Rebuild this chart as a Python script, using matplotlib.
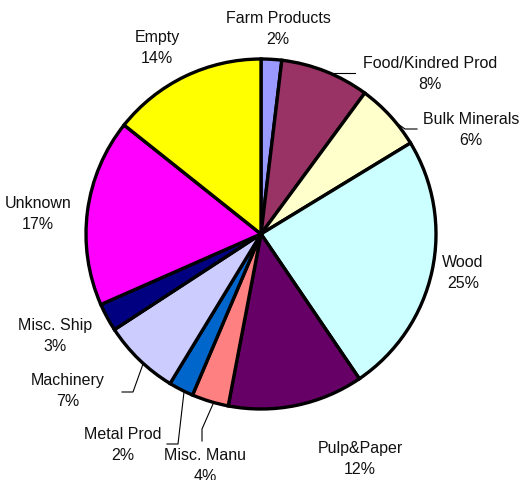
import matplotlib
matplotlib.use("Agg")
import matplotlib.pyplot as plt

# --- Data ---
categories = ["Farm Products", "Food/Kindred Prod", "Bulk Minerals", "Wood", "Pulp&Paper",
              "Misc. Manu", "Metal Prod", "Machinery", "Misc. Ship", "Unknown", "Empty"]
shares = [1.9, 8.2, 6.2, 24.2, 12.5, 3.4, 2.3, 7.1, 2.6, 17.3, 14.3]
pct_labels = ["2%", "8%", "6%", "25%", "12%", "4%", "2%", "7%", "3%", "17%", "14%"]
colors = ["#9999FF", "#993366", "#FFFFCC", "#CCFFFF", "#660066", "#FF8080",
          "#0066CC", "#CCCCFF", "#000080", "#FF00FF", "#FFFF00"]

W, H = 523, 481

# label centres in pixel coords (top-left origin)
label_pos = {
    "Farm Products": (278, 29),
    "Food/Kindred Prod": (430, 74),
    "Bulk Minerals": (471, 130),
    "Wood": (463, 273),
    "Pulp&Paper": (360, 459),
    "Misc. Manu": (205, 466),
    "Metal Prod": (123, 445),
    "Machinery": (68, 391),
    "Misc. Ship": (55, 336),
    "Unknown": (38, 214),
    "Empty": (157, 48),
}

# leader lines in pixel coords
leaders = {
    "Food/Kindred Prod": [(331, 74), (355, 74)],
    "Bulk Minerals": [(398, 125), (405, 130), (417, 130)],
    "Metal Prod": [(184, 393), (178, 445), (167, 445)],
    "Misc. Manu": [(213, 405), (202, 430), (202, 442)],
    "Machinery": [(143, 365), (133, 393), (122, 393)],
}

fig = plt.figure(figsize=(W / 100, H / 100), dpi=100)
ax = fig.add_axes([0, 0, 1, 1])
ax.set_xlim(0, W)
ax.set_ylim(0, H)
ax.set_aspect("equal")
ax.axis("off")

ax.pie(shares, colors=colors, startangle=90, counterclock=False,
       center=(261, H - 235), radius=175,
       wedgeprops=dict(edgecolor="black", linewidth=2.4))
ax.set_xlim(0, W)
ax.set_ylim(0, H)

for name, pct in zip(categories, pct_labels):
    x, y = label_pos[name]
    ax.text(x, H - y, name + "\n" + pct, ha="center", va="center",
            fontsize=11.5, family="Liberation Sans", linespacing=1.45, color="#111111")

for name, pts in leaders.items():
    xs = [p[0] for p in pts]
    ys = [H - p[1] for p in pts]
    ax.plot(xs, ys, color="black", linewidth=0.8)

fig.savefig("out.png", dpi=100)
